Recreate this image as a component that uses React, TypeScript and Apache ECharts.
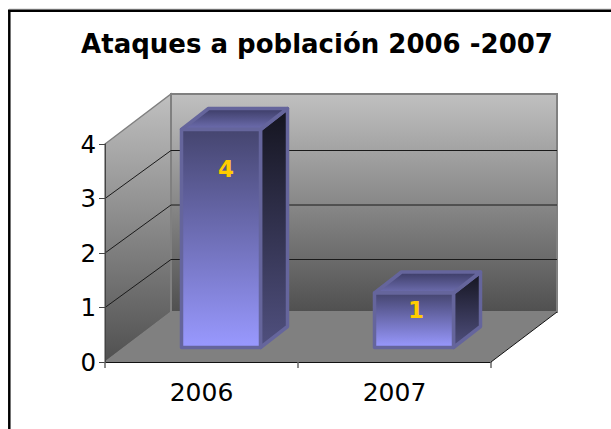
import React, { useEffect, useRef } from "react";
import * as echarts from "echarts";

const titleText = "Ataques a población 2006 -2007";
const categories = ["2006", "2007"];
const attacks = [4, 1];
const yTicks = [1, 2, 3];
const yMin = 0;
const yMax = 4;

const FONT = "'DejaVu Sans', Verdana, sans-serif";
const WALL = { dx: 66, dy: -50, gridDy: -48 };
const BAR = { dx: 27, dy: -21, shiftX: 19.5, shiftY: -14.5, width: 79 };
const LABEL_DROP = [25, 2.5];
const LABEL_SHIFT = [5, 2];

const vGrad = (a: string, b: string) =>
  new echarts.graphic.LinearGradient(0, 0, 0, 1, [
    { offset: 0, color: a },
    { offset: 1, color: b },
  ]);

function renderWalls(_: any, api: any) {
  const band = api.size([1, 0])[0];
  const x0 = api.coord([0, yMin])[0] - band / 2;
  const x1 = x0 + band * categories.length;
  const yb = api.coord([0, yMin])[1];
  const yt = api.coord([0, yMax])[1];
  const { dx, dy, gridDy } = WALL;
  const children: any[] = [
    {
      type: "polygon",
      shape: { points: [[x0 + dx, yb + dy], [x1 + dx, yb + dy], [x1, yb], [x0, yb]] },
      style: { fill: "#808080" },
    },
    {
      type: "polygon",
      shape: { points: [[x0, yb], [x0 + dx, yb + dy], [x0 + dx, yt + dy], [x0, yt]] },
      style: { fill: vGrad("#c0c0c0", "#505050"), stroke: "#808080", lineWidth: 1.5 },
    },
    {
      type: "rect",
      shape: { x: x0 + dx, y: yt + dy, width: x1 - x0, height: yb - yt },
      style: { fill: vGrad("#c0c0c0", "#505050"), stroke: "#808080", lineWidth: 2 },
    },
    {
      type: "line",
      shape: { x1: x1, y1: yb, x2: x1 + dx, y2: yb + dy },
      style: { stroke: "#111111", lineWidth: 1 },
    },
  ];
  yTicks.forEach((t) => {
    const y = api.coord([0, t])[1];
    children.push({
      type: "polyline",
      shape: { points: [[x0, y], [x0 + dx, y + gridDy], [x1 + dx, y + gridDy]] },
      style: { fill: "none", stroke: "#1a1a1a", lineWidth: 1 },
    });
  });
  return { type: "group", children };
}

function renderBar(params: any, api: any) {
  const i = api.value(0);
  const [cx, yTop0] = api.coord([i, api.value(1)]);
  const yBase0 = api.coord([i, yMin])[1];
  const { dx, dy, shiftX, shiftY, width } = BAR;
  const l = cx - width / 2 + shiftX;
  const r = l + width;
  const t = yTop0 + shiftY;
  const b = yBase0 + shiftY;
  const edge = { stroke: "#65659c", lineWidth: 3.5, lineJoin: "round" };
  return {
    type: "group",
    children: [
      {
        type: "polygon",
        shape: { points: [[r, t], [r + dx, t + dy], [r + dx, b + dy], [r, b]] },
        style: { fill: vGrad("#14141f", "#50507f"), ...edge },
      },
      {
        type: "polygon",
        shape: { points: [[l, t], [l + dx, t + dy], [r + dx, t + dy], [r, t]] },
        style: { fill: vGrad("#3c3c66", "#6e6eb0"), ...edge },
      },
      {
        type: "rect",
        shape: { x: l, y: t, width, height: b - t },
        style: { fill: vGrad("#45456f", "#9999ff"), ...edge },
      },
      {
        type: "text",
        style: {
          x: cx + shiftX + LABEL_SHIFT[params.dataIndex],
          y: yTop0 + LABEL_DROP[params.dataIndex],
          text: String(api.value(1)),
          fill: "#ffcc00",
          font: `bold 23px ${FONT}`,
          align: "center",
          verticalAlign: "middle",
        },
      },
    ],
  };
}

export default function App() {
  const ref = useRef<HTMLDivElement>(null);
  useEffect(() => {
    const chart = echarts.init(ref.current!, null, { renderer: "svg" });
    chart.setOption({
      animation: false,
      backgroundColor: "#ffffff",
      title: {
        text: titleText,
        left: 312,
        textAlign: "center",
        top: 26,
        textStyle: { fontFamily: FONT, fontWeight: "bold", fontSize: 26, color: "#000000" },
      },
      grid: { left: 105, top: 144, width: 386, height: 218 },
      xAxis: {
        type: "category",
        data: categories,
        z: 5,
        axisLine: { lineStyle: { color: "#111111", width: 1 } },
        axisTick: { show: true, length: 6, lineStyle: { color: "#666666", width: 1.5 } },
        axisLabel: { fontFamily: FONT, fontSize: 25, color: "#000000", margin: 18 },
      },
      yAxis: {
        type: "value",
        min: yMin,
        max: yMax,
        interval: 1,
        z: 5,
        splitLine: { show: false },
        axisLine: { show: true, lineStyle: { color: "#444444", width: 1 } },
        axisTick: { show: true, length: 6, lineStyle: { color: "#444444", width: 1 } },
        axisLabel: { fontFamily: FONT, fontSize: 24.5, color: "#000000", margin: 9, padding: [7, 0, 0, 0] },
      },
      graphic: [
        { type: "line", shape: { x1: 9, y1: 9, x2: 611, y2: 9 }, style: { stroke: "#cccccc", lineWidth: 1 } },
        { type: "line", shape: { x1: 8, y1: 10.8, x2: 611, y2: 10.8 }, style: { stroke: "#000000", lineWidth: 2.5 } },
        { type: "line", shape: { x1: 9.3, y1: 10, x2: 9.3, y2: 429 }, style: { stroke: "#000000", lineWidth: 2.5 } },
      ],
      series: [
        {
          type: "custom",
          coordinateSystem: "cartesian2d",
          renderItem: renderWalls,
          data: [[0, yMin]],
          encode: { x: 0, y: 1 },
          clip: false,
          silent: true,
          z: 1,
        },
        {
          type: "custom",
          coordinateSystem: "cartesian2d",
          renderItem: renderBar,
          data: attacks.map((v, i) => [i, v]),
          encode: { x: 0, y: 1 },
          clip: false,
          silent: true,
          z: 2,
        },
      ],
    });
    return () => chart.dispose();
  }, []);
  return (
    <div
      ref={ref}
      style={{ position: "fixed", left: 0, top: 0, width: 611, height: 429 }}
    />
  );
}
